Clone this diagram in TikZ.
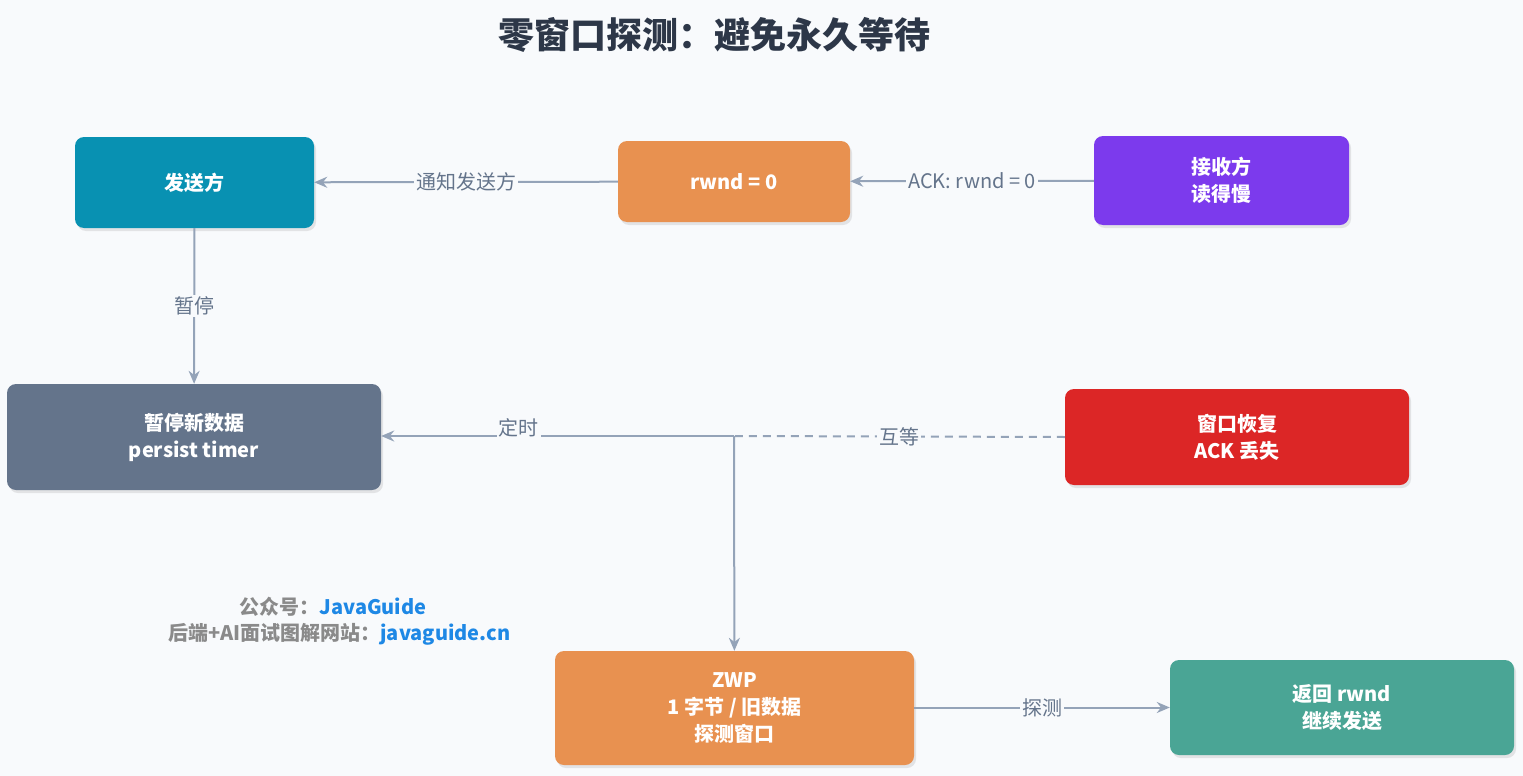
\documentclass[tikz,border=0pt]{standalone}
\usepackage{fontspec}
\setmainfont{Noto Sans CJK SC}
\usetikzlibrary{arrows.meta,shadows}
\definecolor{bg}{HTML}{F8FAFC}
\definecolor{edge}{HTML}{94A3B8}
\definecolor{lbl}{HTML}{64748B}
\definecolor{cblue}{HTML}{0891B2}
\definecolor{corange}{HTML}{E89150}
\definecolor{cpurple}{HTML}{7C3AED}
\definecolor{cslate}{HTML}{64748B}
\definecolor{cred}{HTML}{DC2626}
\definecolor{cteal}{HTML}{4AA595}
\definecolor{ctitle}{HTML}{2D3748}
\definecolor{jblue}{HTML}{1E88E5}
\definecolor{jgray}{HTML}{8A8A8A}
\begin{document}
\begin{tikzpicture}[x=1pt,y=-1pt,
  box/.style={draw=none,rounded corners=9pt,text=white,font=\fontsize{20}{27}\selectfont\bfseries,align=center,inner sep=0pt,drop shadow={shadow xshift=2pt,shadow yshift=-3pt,opacity=0.18}},
  conn/.style={draw=edge,line width=2pt,-{Stealth[length=13pt,width=11pt]}},
  lab/.style={fill=bg,text=lbl,font=\fontsize{20}{24}\selectfont,inner sep=2pt}]
\fill[bg] (0,0) rectangle (1523,776);
\useasboundingbox (0,0) rectangle (1523,776);
\node[text=ctitle,font=\fontsize{36}{42}\selectfont\bfseries] (title) at (714,35) {零窗口探测：避免永久等待};
\node[box,fill=cblue,minimum width=239pt,minimum height=91pt] (snd) at (194.5,182.5) {发送方};
\node[box,fill=corange,minimum width=232pt,minimum height=81pt] (rw) at (734,181.5) {rwnd = 0};
\node[box,fill=cpurple,minimum width=255pt,minimum height=89pt] (rcv) at (1221.5,180.5) {接收方\\读得慢};
\node[box,fill=cslate,minimum width=374pt,minimum height=106pt] (pause) at (194,437) {暂停新数据\\persist timer};
\node[box,fill=cred,minimum width=344pt,minimum height=96pt] (win) at (1237,437) {窗口恢复\\ACK 丢失};
\node[box,fill=corange,minimum width=359pt,minimum height=114pt] (zwp) at (734.5,708) {ZWP\\1 字节 / 旧数据\\探测窗口};
\node[box,fill=cteal,minimum width=344pt,minimum height=95pt] (ret) at (1342,707.5) {返回 rwnd\\继续发送};
\coordinate (j) at (734,436);
\draw[conn] (rcv) -- node[lab]{ACK: rwnd = 0} (rw);
\draw[conn] (rw) -- node[lab]{通知发送方} (snd);
\draw[conn] (snd) -- node[lab]{暂停} (pause);
\draw[draw=edge,line width=2pt,dash pattern=on 8pt off 6pt] (win.west) -- node[lab]{互等} (j);
\draw[conn] (j) -- node[lab,pos=0.61,yshift=8pt]{定时} (pause.east |- j);
\draw[conn] (j) -- (zwp);
\draw[conn] (zwp.east |- ret) -- node[lab]{探测} (ret);
\node[font=\fontsize{20}{24}\selectfont\bfseries,anchor=east] (w1) at (430,607) {\textcolor{jgray}{公众号：}\textcolor{jblue}{JavaGuide}};
\node[font=\fontsize{20}{24}\selectfont\bfseries,anchor=east] (w2) at (514,634) {\textcolor{jgray}{后端+AI面试图解网站：}\textcolor{jblue}{javaguide.cn}};
\end{tikzpicture}
\end{document}
